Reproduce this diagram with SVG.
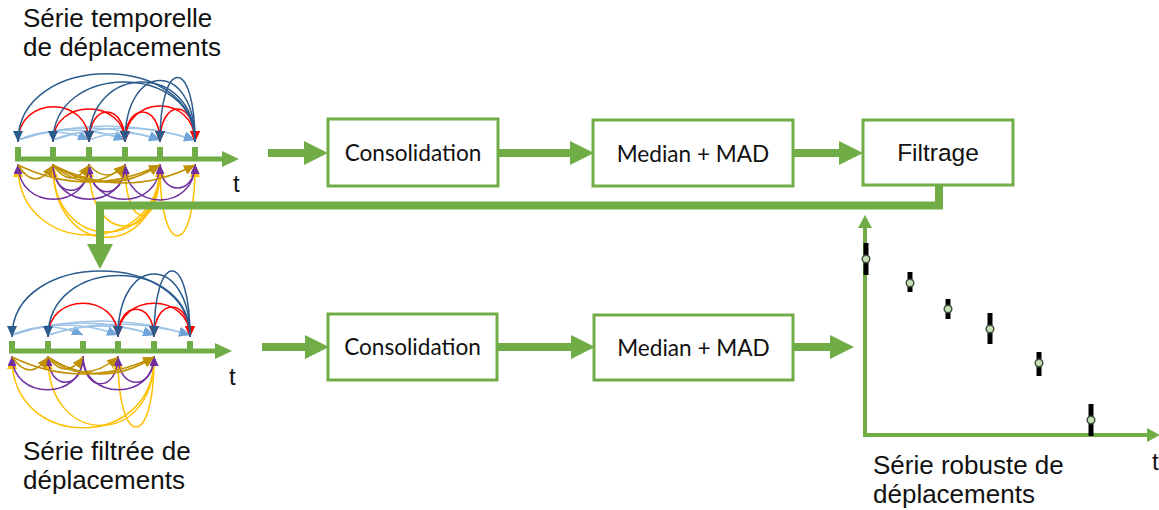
<svg xmlns="http://www.w3.org/2000/svg" width="1159" height="510" viewBox="0 0 1159 510">
<style>
.lbl{font-family:"Liberation Sans",Arial,sans-serif;font-size:26px;fill:#111}
.box{fill:#fff;stroke:#70AD47;stroke-width:3}
.btx{font-family:Lato,"Open Sans",sans-serif;font-size:22.6px;fill:#111;text-anchor:middle}
.gl{fill:none;stroke:#70AD47;stroke-width:8}
.ax{fill:none;stroke:#70AD47;stroke-width:5}
.tick{fill:#70AD47}
.a{fill:none;stroke-width:1.5}
.bl{stroke:#2A5B8C;marker-end:url(#mBl)}
.rd{stroke:#FF0000;marker-end:url(#mRd)}
.lb{stroke:#9DC3E6;marker-end:url(#mLb)}
.pu{stroke:#7030A0;marker-end:url(#mPu)}
.go{stroke:#BF9000;marker-end:url(#mGo)}
.ye{stroke:#FFC000;marker-end:url(#mYe)}
.bar{stroke:#000;stroke-width:5}
.pt{fill:#C5E0B4;stroke:#3F4F3A;stroke-width:1.5}
</style>
<defs>
<marker id="mBl" markerUnits="userSpaceOnUse" markerWidth="11" markerHeight="10" refX="11" refY="5" orient="auto"><path d="M0,0 L11,5 L0,10 z" fill="#2A5B8C"/></marker>
<marker id="mRd" markerUnits="userSpaceOnUse" markerWidth="11" markerHeight="10" refX="11" refY="5" orient="auto"><path d="M0,0 L11,5 L0,10 z" fill="#FF0000"/></marker>
<marker id="mLb" markerUnits="userSpaceOnUse" markerWidth="11" markerHeight="10" refX="11" refY="5" orient="auto"><path d="M0,0 L11,5 L0,10 z" fill="#6FA5D8"/></marker>
<marker id="mPu" markerUnits="userSpaceOnUse" markerWidth="10" markerHeight="9" refX="10" refY="4.5" orient="auto"><path d="M0,0 L10,4.5 L0,9 z" fill="#7030A0"/></marker>
<marker id="mGo" markerUnits="userSpaceOnUse" markerWidth="11" markerHeight="10" refX="11" refY="5" orient="auto"><path d="M0,0 L11,5 L0,10 z" fill="#BF9000"/></marker>
<marker id="mYe" markerUnits="userSpaceOnUse" markerWidth="11" markerHeight="10" refX="11" refY="5" orient="auto"><path d="M0,0 L11,5 L0,10 z" fill="#FFC000"/></marker>
<marker id="mG" markerUnits="userSpaceOnUse" markerWidth="24" markerHeight="24" refX="0" refY="12" orient="auto"><path d="M0,0 L24,12 L0,24 z" fill="#70AD47"/></marker>
<marker id="mGb" markerUnits="userSpaceOnUse" markerWidth="26" markerHeight="26" refX="0" refY="13" orient="auto"><path d="M0,0 L25,13 L0,26 z" fill="#70AD47"/></marker>
<marker id="mAx" markerUnits="userSpaceOnUse" markerWidth="17" markerHeight="16" refX="0" refY="8" orient="auto"><path d="M0,0 L17,8 L0,16 z" fill="#70AD47"/></marker>
<marker id="mCh" markerUnits="userSpaceOnUse" markerWidth="13" markerHeight="14" refX="0" refY="7" orient="auto"><path d="M0,0 L13,7 L0,14 z" fill="#70AD47"/></marker>
</defs>

<g id="serie-temporelle">
  <text class="lbl" x="23" y="27">Série temporelle</text>
  <text class="lbl" x="23" y="56">de déplacements</text>
  <!-- below arcs -->
  <path class="a ye" d="M160,166 C160,258 18,258 18,166"/>
  <path class="a ye" d="M160,166 C160,261 53,261 53,166"/>
  <path class="a ye" d="M160,166 C160,246 89,246 89,166"/>
  <path class="a ye" d="M160,166 C160,232 125,232 125,166"/>
  <path class="a ye" d="M160,166 C160,259 195,259 195,166"/>
  <path class="a ye" d="M53,166 C53,254 160,254 160,166"/>
  <path class="a pu" d="M89,164 C89,211 18,211 18,164"/>
  <path class="a pu" d="M53,164 C53,199 89,199 89,164"/>
  <path class="a pu" d="M53,164 C53,211 125,211 125,164"/>
  <path class="a pu" d="M89,164 C89,201 125,201 125,164"/>
  <path class="a pu" d="M89,164 C89,211 160,211 160,164"/>
  <path class="a pu" d="M125,164 C125,212 195,212 195,164"/>
  <path class="a pu" d="M160,164 C160,196 195,196 195,164"/>
  <path class="a go" d="M18,165 Q35.5,193 53,165"/>
  <path class="a go" d="M53,165 Q71,191 89,165"/>
  <path class="a go" d="M53,165 Q89,197 125,165"/>
  <path class="a go" d="M53,165 Q106.5,199 160,165"/>
  <path class="a go" d="M53,165 Q124,201 195,165"/>
  <path class="a go" d="M89,165 Q107,185 125,165"/>
  <path class="a go" d="M18,165 Q89,199 160,165"/>
  <!-- above arcs -->
  <path class="a lb" d="M18,140 Q53.5,124 89,140"/>
  <path class="a lb" d="M18,140 Q71.5,120 125,140"/>
  <path class="a lb" d="M18,140 Q89,116 160,140"/>
  <path class="a lb" d="M18,140 Q106.5,112 195,140"/>
  <path class="a lb" d="M53,140 Q89,124 125,140"/>
  <path class="a lb" d="M53,140 Q124,116 195,140"/>
  <path class="a lb" d="M89,140 Q124.5,126 160,140"/>
  <path class="a rd" d="M18,142 C18,95 89,95 89,142"/>
  <path class="a rd" d="M53,142 C53,98 125,98 125,142"/>
  <path class="a rd" d="M89,142 C89,102 125,102 125,142"/>
  <path class="a rd" d="M125,142 C125,102 160,102 160,142"/>
  <path class="a rd" d="M125,142 C125,94 195,94 195,142"/>
  <path class="a rd" d="M160,142 C160,98 195,98 195,142"/>
  <path class="a bl" d="M195,142 C195,51 18,51 18,142"/>
  <path class="a bl" d="M195,142 C195,62 53,62 53,142"/>
  <path class="a bl" d="M195,142 C195,62 89,62 89,142"/>
  <path class="a bl" d="M195,142 C195,60 125,60 125,142"/>
  <path class="a bl" d="M195,142 C195,56 160,56 160,142"/>
  <!-- axis -->
  <line class="ax" x1="15" y1="159" x2="222" y2="159" marker-end="url(#mAx)"/>
  <rect class="tick" x="15" y="147" width="6" height="12"/>
  <rect class="tick" x="50" y="147" width="6" height="12"/>
  <rect class="tick" x="86" y="147" width="6" height="12"/>
  <rect class="tick" x="122" y="147" width="6" height="12"/>
  <rect class="tick" x="157" y="147" width="6" height="12"/>
  <rect class="tick" x="192" y="147" width="6" height="12"/>
  <text class="lbl" x="233" y="192" style="font-size:24px">t</text>
</g>

<g id="serie-filtree">
  <text class="lbl" x="23" y="460">Série filtrée de</text>
  <text class="lbl" x="23" y="489">déplacements</text>
  <!-- below arcs -->
  <path class="a ye" d="M154,358 C154,451 12,451 12,358"/>
  <path class="a ye" d="M154,358 C154,448 48,448 48,358"/>
  <path class="a ye" d="M154,358 C154,450 118,450 118,358"/>
  <path class="a pu" d="M83,356 C83,401 12,401 12,356"/>
  <path class="a pu" d="M83,356 C83,391 48,391 48,356"/>
  <path class="a pu" d="M83,356 C83,401 154,401 154,356"/>
  <path class="a pu" d="M118,356 C118,391 154,391 154,356"/>
  <path class="a pu" d="M83,356 C83,393 118,393 118,356"/>
  <path class="a go" d="M12,357 Q30,383 48,357"/>
  <path class="a go" d="M48,357 Q65.5,381 83,357"/>
  <path class="a go" d="M48,357 Q83,387 118,357"/>
  <path class="a go" d="M48,357 Q101,391 154,357"/>
  <path class="a go" d="M12,357 Q83,391 154,357"/>
  <!-- above arcs -->
  <path class="a lb" d="M12,335 Q47.5,319 83,335"/>
  <path class="a lb" d="M12,335 Q65,315 118,335"/>
  <path class="a lb" d="M12,335 Q83,311 154,335"/>
  <path class="a lb" d="M12,335 Q101,307 190,335"/>
  <path class="a lb" d="M48,335 Q101,317 154,335"/>
  <path class="a lb" d="M48,335 Q119,313 190,335"/>
  <path class="a rd" d="M48,337 C48,292 118,292 118,337"/>
  <path class="a rd" d="M118,337 C118,300 154,300 154,337"/>
  <path class="a rd" d="M118,337 C118,292 190,292 190,337"/>
  <path class="a rd" d="M154,337 C154,297 190,297 190,337"/>
  <path class="a bl" d="M190,337 C190,249 12,249 12,337"/>
  <path class="a bl" d="M190,337 C190,255 48,255 48,337"/>
  <path class="a bl" d="M190,337 C190,253 118,253 118,337"/>
  <path class="a bl" d="M190,337 C190,249 154,249 154,337"/>
  <!-- axis -->
  <line class="ax" x1="9" y1="351" x2="215" y2="351" marker-end="url(#mAx)"/>
  <rect class="tick" x="9" y="341" width="6" height="10"/>
  <rect class="tick" x="45" y="341" width="6" height="10"/>
  <rect class="tick" x="80" y="341" width="6" height="10"/>
  <rect class="tick" x="115" y="341" width="6" height="10"/>
  <rect class="tick" x="151" y="341" width="6" height="10"/>
  <rect class="tick" x="187" y="341" width="6" height="10"/>
  <text class="lbl" x="229" y="385" style="font-size:24px">t</text>
</g>

<g id="consolidation-1">
  <rect class="box" x="328" y="119" width="170" height="67"/>
  <text class="btx" x="413" y="161">Consolidation</text>
</g>
<g id="median-mad-1">
  <rect class="box" x="593" y="120" width="200" height="66"/>
  <text class="btx" x="693" y="162">Median + MAD</text>
</g>
<g id="filtrage">
  <rect class="box" x="863" y="120" width="150" height="65"/>
  <text class="lbl" x="938" y="161" style="font-size:24.5px;text-anchor:middle">Filtrage</text>
</g>
<g id="consolidation-2">
  <rect class="box" x="328" y="314" width="169" height="66"/>
  <text class="btx" x="412.5" y="355">Consolidation</text>
</g>
<g id="median-mad-2">
  <rect class="box" x="594" y="315" width="199" height="65"/>
  <text class="btx" x="693.5" y="356">Median + MAD</text>
</g>

<g id="serie-robuste">
  <line class="ax" style="stroke-width:4" x1="865" y1="437" x2="865" y2="228" marker-end="url(#mCh)"/>
  <line class="ax" style="stroke-width:4" x1="863" y1="435" x2="1147" y2="435" marker-end="url(#mCh)"/>
  <line class="bar" x1="866" y1="243" x2="866" y2="275"/>
  <line class="bar" x1="910" y1="272" x2="910" y2="292"/>
  <line class="bar" x1="948" y1="299" x2="948" y2="319"/>
  <line class="bar" x1="990" y1="313" x2="990" y2="344"/>
  <line class="bar" x1="1039" y1="352" x2="1039" y2="376"/>
  <line class="bar" x1="1091" y1="404" x2="1091" y2="436"/>
  <circle class="pt" cx="866" cy="259" r="3.8"/>
  <circle class="pt" cx="910" cy="283" r="3.8"/>
  <circle class="pt" cx="948" cy="309" r="3.8"/>
  <circle class="pt" cx="990" cy="329" r="3.8"/>
  <circle class="pt" cx="1039" cy="363" r="3.8"/>
  <circle class="pt" cx="1091" cy="420" r="3.8"/>
  <text class="lbl" x="1152" y="470" style="font-size:24px">t</text>
  <text class="lbl" x="873" y="474">Série robuste de</text>
  <text class="lbl" x="873" y="503">déplacements</text>
</g>

<g id="connectors">
  <line class="gl" x1="268" y1="153" x2="304" y2="153" marker-end="url(#mG)"/>
  <line class="gl" x1="498" y1="153" x2="570" y2="153" marker-end="url(#mG)"/>
  <line class="gl" x1="793" y1="153" x2="839" y2="153" marker-end="url(#mG)"/>
  <polyline class="gl" points="939,185 939,205.5 100,205.5 100,244" marker-end="url(#mGb)"/>
  <line class="gl" x1="262" y1="347" x2="305" y2="347" marker-end="url(#mG)"/>
  <line class="gl" x1="497" y1="347" x2="571" y2="347" marker-end="url(#mG)"/>
  <line class="gl" x1="793" y1="347" x2="830" y2="347" marker-end="url(#mG)"/>
</g>
</svg>
